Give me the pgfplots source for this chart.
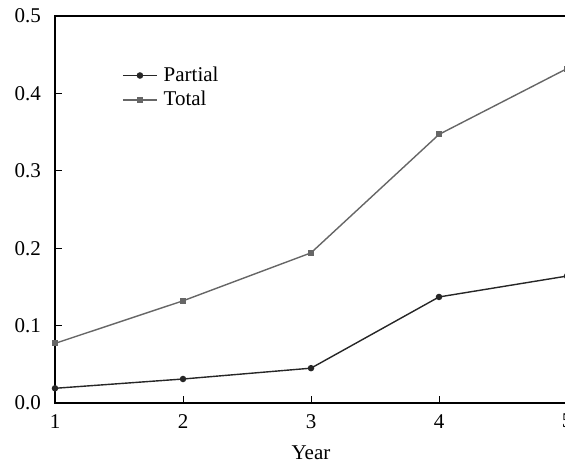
\documentclass[border=0pt]{standalone}
\usepackage{pgfplots}
\pgfplotsset{compat=1.18}
\usepackage{fontspec}
\setmainfont{Liberation Serif}
\usetikzlibrary{calc}
\begin{document}
\fontsize{21bp}{25bp}\selectfont
\begin{tikzpicture}
\begin{axis}[name=ax,
  scale only axis, width=512bp, height=387bp,
  xmin=1, xmax=5, ymin=0, ymax=0.5,
  xtick={1,2,3,4,5}, ytick={0,0.1,0.2,0.3,0.4,0.5},
  yticklabel style={/pgf/number format/fixed, /pgf/number format/fixed zerofill, /pgf/number format/precision=1, xshift=-7bp},
  xticklabel style={yshift=-4bp},
  /pgf/number format/assume math mode=true,
  tick align=inside, major tick length=7bp,
  tick style={black, line width=1bp},
  axis line style={black, line width=1.6bp},
  xtick pos=bottom, ytick pos=left,
  ticklabel style={font=\fontsize{21bp}{25bp}\selectfont},
  xlabel={Year}, xlabel style={font=\fontsize{21bp}{25bp}\selectfont, yshift=-3bp},
  legend style={draw=none, fill=none, at={(0.125,0.88)}, anchor=north west, font=\fontsize{21bp}{25bp}\selectfont, row sep=3bp, column sep=4bp,
    nodes={inner sep=2bp}},
  legend image code/.code={\draw[line width=1.5bp, mark repeat=2, mark phase=2] plot coordinates {(0bp,0bp) (17bp,0bp) (34bp,0bp)};},
  legend cell align=left,
  clip=false,
]
\addplot[color=black!85, line width=1.4bp, mark=*, mark size=2.5bp] coordinates {(1,0.019) (2,0.031) (3,0.045) (4,0.137) (5,0.164)};
\addlegendentry{Partial}
\addplot[color=black!60, line width=1.4bp, mark=square*, mark size=2.3bp] coordinates {(1,0.077) (2,0.132) (3,0.194) (4,0.347) (5,0.432)};
\addlegendentry{Total}
\end{axis}
\pgfresetboundingbox
\path[use as bounding box] ($(ax.south west)+(-55bp,-63bp)$) rectangle ($(ax.north east)+(-2bp,16bp)$);
\end{tikzpicture}
\end{document}
